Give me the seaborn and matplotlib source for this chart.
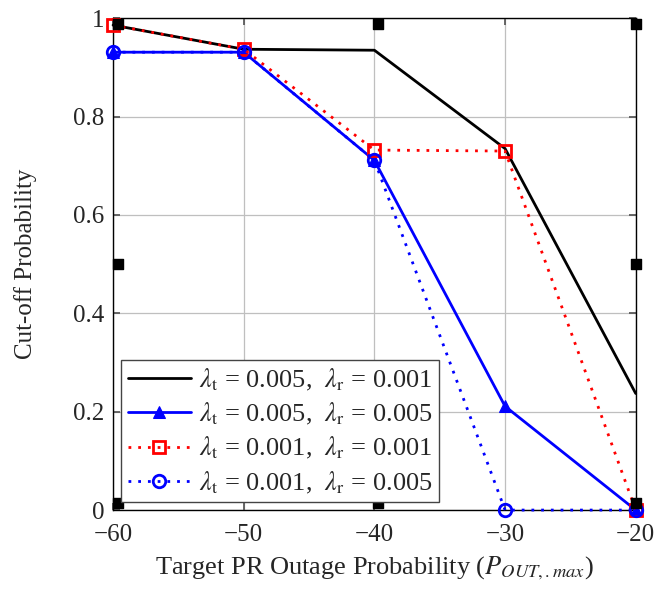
import pandas as pd
import seaborn as sns
import matplotlib.pyplot as plt

# === data ===
target_db = [-60, -50, -40, -30, -20]
cutoff_t005_r001 = [0.986, 0.937, 0.935, 0.735, 0.237]
cutoff_t005_r005 = [0.931, 0.931, 0.711, 0.211, 0.0]
cutoff_t001_r001 = [0.986, 0.937, 0.732, 0.730, 0.0]
cutoff_t001_r005 = [0.931, 0.931, 0.711, 0.0, 0.0]

labels = [
    r"$\lambda_{\mathrm{t}}$ = 0.005,  $\lambda_{\mathrm{r}}$ = 0.001",
    r"$\lambda_{\mathrm{t}}$ = 0.005,  $\lambda_{\mathrm{r}}$ = 0.005",
    r"$\lambda_{\mathrm{t}}$ = 0.001,  $\lambda_{\mathrm{r}}$ = 0.001",
    r"$\lambda_{\mathrm{t}}$ = 0.001,  $\lambda_{\mathrm{r}}$ = 0.005",
]

# stray black square marks seen in the figure
extra_x = [-59.6, -39.7, -20.0, -59.6, -20.0, -59.6, -39.7, -20.0]
extra_y = [0.988, 0.988, 0.988, 0.5, 0.5, 0.014, 0.014, 0.014]

sns.set_theme(style="whitegrid")
plt.rcParams['font.family'] = ['Liberation Serif', 'DejaVu Serif']
plt.rcParams['mathtext.fontset'] = 'stix'
plt.rcParams['axes.unicode_minus'] = True

df = pd.DataFrame({
    "x": target_db * 4,
    "y": cutoff_t005_r001 + cutoff_t005_r005 + cutoff_t001_r001 + cutoff_t001_r005,
    "series": [labels[0]] * 5 + [labels[1]] * 5 + [labels[2]] * 5 + [labels[3]] * 5,
})

styles = [
    dict(color="black", linestyle="-", marker=None),
    dict(color="blue", linestyle="-", marker="^", markersize=8, markerfacecolor="blue",
         markeredgecolor="blue"),
    dict(color="red", linestyle=(0, (1, 2.5)), marker="s", markersize=9,
         markerfacecolor="none", markeredgecolor="red", markeredgewidth=2),
    dict(color="blue", linestyle=(0, (1, 2.5)), marker="o", markersize=9,
         markerfacecolor="none", markeredgecolor="blue", markeredgewidth=2),
]

fig = plt.figure(figsize=(6.65, 5.89), dpi=100)
ax = fig.add_axes([0.170, 0.134, 0.786, 0.835])

for lab, st in zip(labels, styles):
    sub = df[df["series"] == lab]
    sns.lineplot(data=sub, x="x", y="y", ax=ax, label=lab, linewidth=2,
                 clip_on=False, zorder=3, **st)

ax.scatter(extra_x, extra_y, marker="s", s=55, color="black", zorder=4, clip_on=False)

ax.set_xlim(-60, -20)
ax.set_ylim(0, 1)
ax.set_xticks([-60, -50, -40, -30, -20])
ax.set_yticks([0, 0.2, 0.4, 0.6, 0.8, 1])
ax.set_yticklabels(["0", "0.2", "0.4", "0.6", "0.8", "1"])
ax.grid(True, color="#bfbfbf", linewidth=0.9)
for s in ax.spines.values():
    s.set_color("black")
    s.set_linewidth(1.0)
ax.tick_params(axis="both", direction="in", length=5, color="#555555",
               labelsize=18, top=True, right=True, bottom=True, left=True)
ax.tick_params(axis="x", pad=10)
ax.tick_params(axis="y", pad=6)

ax.set_xlabel(r"Target PR Outage Probability ($P_{OUT,.max}$)", fontsize=19, labelpad=6)
ax.set_ylabel("Cut-off Probability", fontsize=18, labelpad=26)

leg = ax.legend(loc="lower left", fontsize=19, frameon=True, fancybox=False,
                edgecolor="#444444", framealpha=1, borderpad=0.25, labelspacing=0.3,
                handlelength=2.4, handletextpad=0.3, borderaxespad=0.3)
leg.get_frame().set_linewidth(1.0)

plt.savefig("out.png", dpi=100)
